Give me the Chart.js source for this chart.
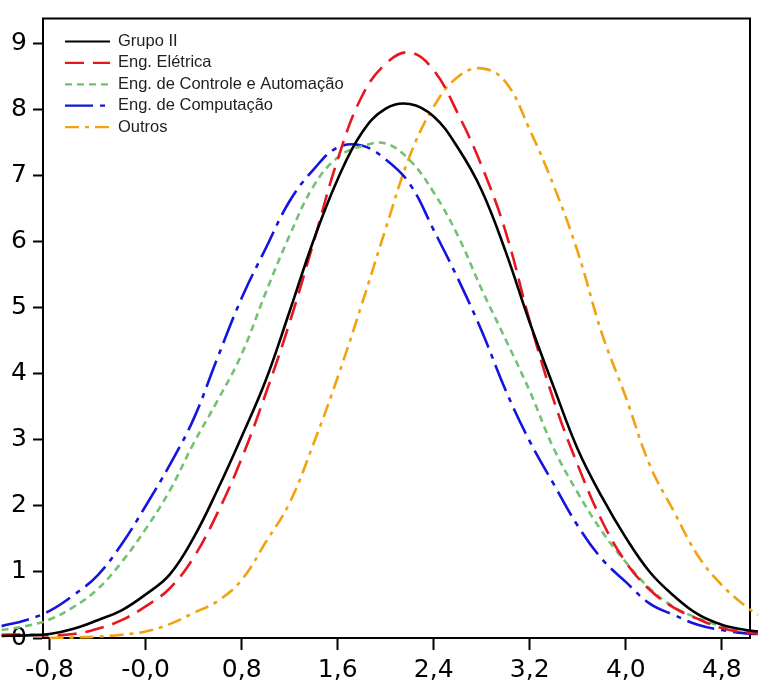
<!DOCTYPE html>
<html lang="pt">
<head>
<meta charset="UTF-8" />
<script src="https://cdn.jsdelivr.net/npm/chart.js"></script>
<title>Densidades</title>
<style>
  html, body { margin: 0; padding: 0; background: #fff; }
</style>
</head>
<body>
<canvas id="chart" width="760" height="683"></canvas>
<script>
// grade comum de x para todas as curvas
const xGrid = [-1.2, -1.0, -0.8, -0.6, -0.4, -0.2, 0.0, 0.2, 0.4, 0.6, 0.8, 1.0, 1.2, 1.4, 1.6, 1.8,
  2.0, 2.2, 2.4, 2.6, 2.8, 3.0, 3.2, 3.4, 3.6, 3.8, 4.0, 4.2, 4.4, 4.6, 4.8, 5.0, 5.1]

const grupoII = [0.03, 0.04, 0.06, 0.14, 0.27, 0.42, 0.66, 0.96, 1.52, 2.25, 3.05, 3.9, 4.95, 6.03, 6.95, 7.65,
  8.02, 8.09, 7.9, 7.43, 6.78, 5.85, 4.78, 3.8, 2.86, 2.14, 1.52, 1.0, 0.64, 0.36, 0.2, 0.12, 0.1]
const engEletrica = [0.05, 0.05, 0.04, 0.06, 0.14, 0.27, 0.48, 0.75, 1.22, 1.9, 2.72, 3.7, 4.78, 6.0, 7.25, 8.2,
  8.7, 8.87, 8.6, 7.95, 7.15, 6.15, 4.8, 3.6, 2.62, 1.78, 1.15, 0.73, 0.46, 0.29, 0.15, 0.08, 0.07]
const engControle = [0.12, 0.18, 0.28, 0.47, 0.74, 1.15, 1.65, 2.23, 2.95, 3.6, 4.3, 5.23, 6.1, 6.85, 7.28, 7.45,
  7.49, 7.24, 6.75, 6.1, 5.28, 4.52, 3.74, 2.87, 2.2, 1.62, 1.15, 0.75, 0.47, 0.3, 0.18, 0.11, 0.09]
const engComputacao = [0.18, 0.27, 0.41, 0.65, 0.95, 1.42, 2.0, 2.62, 3.32, 4.25, 5.15, 5.9, 6.62, 7.1, 7.43, 7.46,
  7.25, 6.88, 6.18, 5.45, 4.65, 3.75, 2.98, 2.33, 1.7, 1.2, 0.85, 0.52, 0.35, 0.2, 0.12, 0.07, 0.06]
const outros = [null, null, 0.0, 0.01, 0.02, 0.05, 0.1, 0.21, 0.38, 0.56, 0.88, 1.45, 2.05, 2.95, 3.95, 5.05,
  6.2, 7.3, 8.05, 8.5, 8.63, 8.42, 7.7, 6.85, 5.85, 4.62, 3.65, 2.62, 1.92, 1.25, 0.8, 0.48, 0.35]

const xTickValues = [-0.8, 0.0, 0.8, 1.6, 2.4, 3.2, 4.0, 4.8]
const xTickLabels = ['-0,8', '-0,0', '0,8', '1,6', '2,4', '3,2', '4,0', '4,8']
const yTickValues = [0, 1, 2, 3, 4, 5, 6, 7, 8, 9]
const xMin = -0.855
const xMax = 5.035
const yMax = 9.385

const toPoints = (ys) => xGrid.map((x, i) => ({ x, y: ys[i] }))

const tickFont = { family: 'DejaVu Sans', size: 25, lineHeight: 1 }

// moldura em volta da área do gráfico
const framePlugin = {
  id: 'frame',
  beforeDatasetsDraw(chart) {
    const { ctx, chartArea: a } = chart
    ctx.save()
    ctx.strokeStyle = '#000'
    ctx.lineWidth = 2
    ctx.strokeRect(a.left, a.top, a.right - a.left, a.bottom - a.top)
    ctx.restore()
  },
}

// legenda dentro do gráfico, canto superior esquerdo
const insideLegend = {
  id: 'insideLegend',
  afterDraw(chart) {
    const { ctx, chartArea: a } = chart
    ctx.save()
    ctx.font = '16.5px "Liberation Sans"'
    ctx.textBaseline = 'middle'
    chart.data.datasets.forEach((ds, i) => {
      const y = a.top + 23 + i * 21.4
      ctx.strokeStyle = ds.borderColor
      ctx.lineWidth = Math.min(ds.borderWidth, 2.2)
      ctx.setLineDash(ds.borderDash || [])
      ctx.beginPath()
      ctx.moveTo(a.left + 22, y)
      ctx.lineTo(a.left + 67, y)
      ctx.stroke()
      ctx.fillStyle = '#1e1e1e'
      ctx.fillText(ds.label, a.left + 75, y)
    })
    ctx.restore()
  },
}

const line = (label, ys, color, width, dash) => ({
  label,
  data: toPoints(ys),
  borderColor: color,
  borderWidth: width,
  borderDash: dash,
  pointRadius: 0,
  tension: 0.4,
  clip: false,
})

new Chart(document.getElementById('chart').getContext('2d'), {
  type: 'line',
  data: {
    datasets: [
      line('Grupo II', grupoII, '#000000', 2.6, []),
      line('Eng. Elétrica', engEletrica, '#e8161f', 2.6, [19, 9]),
      line('Eng. de Controle e Automação', engControle, '#72c272', 2.6, [7, 5]),
      line('Eng. de Computação', engComputacao, '#1414e0', 2.6, [28, 7, 5, 7]),
      line('Outros', outros, '#f2a20e', 2.6, [14, 6, 4, 6]),
    ],
  },
  options: {
    responsive: false,
    animation: false,
    layout: { padding: { top: 13, right: 10, left: 0, bottom: 0 } },
    plugins: { legend: { display: false }, tooltip: { enabled: false } },
    scales: {
      x: {
        type: 'linear',
        bounds: 'data',
        afterDataLimits: (s) => { s.min = xMin; s.max = xMax },
        afterBuildTicks: (s) => { s.ticks = xTickValues.map((v) => ({ value: v })) },
        afterFit: (s) => { s.height = 45 },
        grid: { drawOnChartArea: false, tickLength: 12, tickWidth: 2, tickColor: '#000' },
        border: { color: '#000', width: 2 },
        ticks: {
          color: '#000',
          font: tickFont,
          padding: 8,
          maxRotation: 0,
          autoSkip: false,
          callback: (v, i) => xTickLabels[i],
        },
      },
      y: {
        min: 0,
        max: yMax,
        bounds: 'data',
        afterBuildTicks: (s) => { s.ticks = yTickValues.map((v) => ({ value: v })) },
        afterFit: (s) => { s.width = 43 },
        grid: { drawOnChartArea: false, tickLength: 10, tickWidth: 2, tickColor: '#000' },
        border: { color: '#000', width: 2 },
        ticks: { color: '#000', font: tickFont, padding: 6 },
      },
    },
  },
  plugins: [framePlugin, insideLegend],
})
</script>
</body>
</html>
